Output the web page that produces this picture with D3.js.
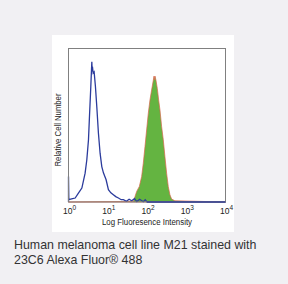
<!DOCTYPE html>
<html>
<head>
<meta charset="utf-8">
<script src="https://cdn.jsdelivr.net/npm/d3@7"></script>
<style>
  html, body { margin: 0; padding: 0; background: #f1f0f3; }
  svg { display: block; }
</style>
</head>
<body>
<svg id="chart"></svg>
<script>
// fluorescence intensity (x) and relative count (y, % of frame height)
const isotypeX = [1, 1, 1.02, 1.2, 1.48, 1.79, 2.19, 2.65, 2.93, 3.23, 3.42, 3.70, 3.85, 3.93, 4.02, 4.08, 4.25, 4.50, 4.86, 5.26, 5.79, 6.38, 7.05, 7.76, 9.08, 10.4, 12, 13.9, 16, 18.7, 22, 25, 30, 35, 40.7, 48, 55, 65, 80.5, 90, 100, 10000]
const isotypeY = [0, 16.6, 1.5, 2, 2.6, 5.8, 9.1, 18.8, 27.5, 40.5, 55.6, 75.1, 86, 91.3, 85, 88, 84, 84.8, 75.1, 62.1, 44.8, 31.8, 23.1, 19, 14.5, 8.0, 6, 4.7, 3.5, 2.6, 1.5, 1.5, 0.5, 1.8, 0.8, 2.2, 0.3, 1.8, 0.2, 1.5, 0, 0]

const stainedX = [1, 44.9, 49.5, 54.6, 63.8, 73.1, 80.5, 88.9, 97.9, 108, 119, 131, 145, 151, 155, 160, 169, 183, 198, 214, 236, 260, 286, 316, 348, 384, 424, 514, 10000]
const stainedY = [0, 0.4, 3.6, 6.9, 10.1, 16.6, 25.3, 36.1, 46.9, 57.8, 66.4, 72.9, 79.4, 82, 79.5, 82, 79.4, 74, 66.4, 59.9, 49.1, 40.5, 29.6, 18.8, 10.1, 4.7, 1.9, 0.8, 0]

const tickValues = [1, 10, 100, 1000, 10000]
const tickExponents = ["0", "1", "2", "3", "4"]

const width = 288, height = 284
const margin = { top: 48.5, right: 62.5, bottom: 82, left: 68.5 }

const svg = d3.select("#chart")
    .attr("width", width)
    .attr("height", height)
    .attr("viewBox", `0 0 ${width} ${height}`)

// white panel behind the plot
svg.append("rect")
    .attr("x", 52).attr("y", 35)
    .attr("width", 182).attr("height", 197)
    .attr("fill", "#fff")

const x = d3.scaleLog()
    .domain([1, 10000])
    .range([margin.left, width - margin.right])
const y = d3.scaleLinear()
    .domain([0, 100])
    .range([height - margin.bottom, margin.top])

const stained = stainedX.map((v, i) => [v, stainedY[i]])
const isotype = isotypeX.map((v, i) => [v, isotypeY[i]])

svg.append("path")
    .datum(stained)
    .attr("fill", "#64b441")
    .attr("stroke", "#d9664c")
    .attr("stroke-width", 0.7)
    .attr("d", d3.area().x(d => x(d[0])).y0(y(0)).y1(d => y(d[1])))

svg.append("path")
    .datum(isotype)
    .attr("fill", "none")
    .attr("stroke", "#2b3b9c")
    .attr("stroke-width", 1.3)
    .attr("d", d3.line().x(d => x(d[0])).y(d => y(d[1])))

// frame
svg.append("rect")
    .attr("x", margin.left).attr("y", margin.top)
    .attr("width", x.range()[1] - x.range()[0])
    .attr("height", y.range()[0] - y.range()[1])
    .attr("fill", "none")
    .attr("stroke", "#808080")
    .attr("stroke-width", 1)

// redraw the blue baseline over the frame's bottom edge
svg.append("line")
    .attr("x1", x(100)).attr("x2", x(10000))
    .attr("y1", y(0)).attr("y2", y(0))
    .attr("stroke", "#2b3b9c")
    .attr("stroke-width", 1.2)

const font = "'Liberation Sans', Arial, sans-serif"

const ticks = svg.append("g")
    .attr("font-family", font)
    .attr("fill", "#222")
  .selectAll("text")
  .data(tickValues)
  .enter().append("text")
    .attr("x", d => x(d) + 1)
    .attr("y", 214)
    .attr("text-anchor", "middle")
    .attr("font-size", 8.5)
ticks.append("tspan").text("10")
ticks.append("tspan")
    .attr("dy", -4)
    .attr("font-size", 6.5)
    .text((d, i) => tickExponents[i])

svg.append("text")
    .attr("x", (x.range()[0] + x.range()[1]) / 2)
    .attr("y", 224.5)
    .attr("text-anchor", "middle")
    .attr("font-family", font)
    .attr("font-size", 8.5)
    .attr("fill", "#222")
    .attr("textLength", 90)
    .attr("lengthAdjust", "spacingAndGlyphs")
    .text("Log Fluoresence Intensity")

svg.append("text")
    .attr("transform", `translate(61,${(93 + 167) / 2}) rotate(-90)`)
    .attr("text-anchor", "middle")
    .attr("font-family", font)
    .attr("font-size", 8.5)
    .attr("fill", "#222")
    .attr("textLength", 73)
    .attr("lengthAdjust", "spacingAndGlyphs")
    .text("Relative Cell Number")

const caption = svg.append("text")
    .attr("font-family", font)
    .attr("font-size", 12.4)
    .attr("fill", "#333")
caption.append("tspan").attr("x", 14).attr("y", 249.3)
    .text("Human melanoma cell line M21 stained with")
caption.append("tspan").attr("x", 14).attr("y", 263.5)
    .text("23C6 Alexa Fluor® 488")
</script>
</body>
</html>
